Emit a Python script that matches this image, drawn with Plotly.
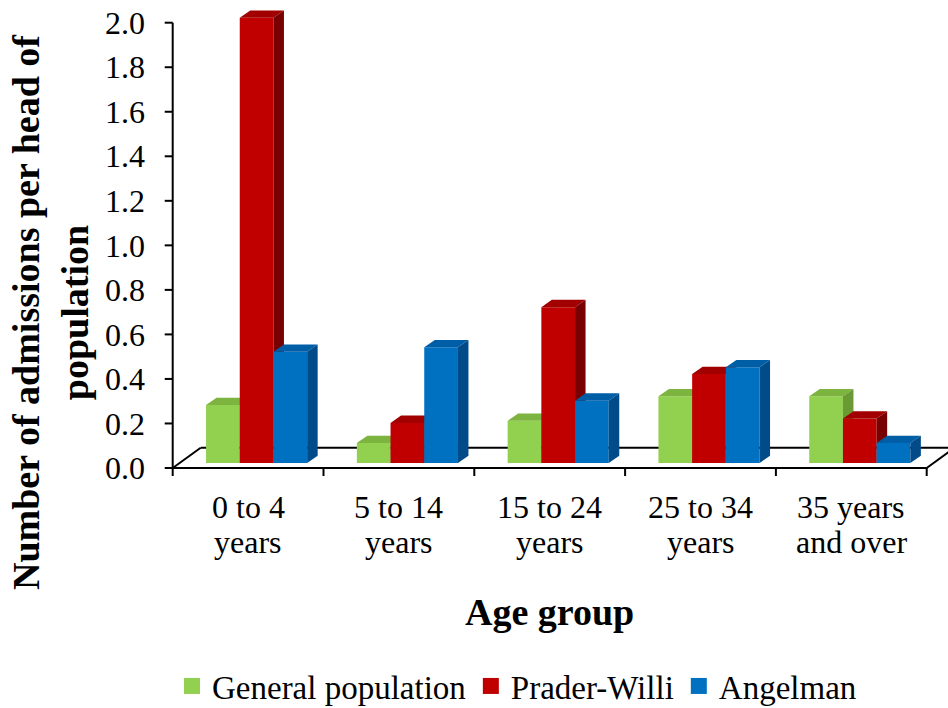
import plotly.graph_objects as go

# ---------------- data ----------------
categories = ["0 to 4<br>years", "5 to 14<br>years", "15 to 24<br>years",
              "25 to 34<br>years", "35 years<br>and over"]
general_population = [0.26, 0.09, 0.19, 0.30, 0.30]
prader_willi = [2.00, 0.18, 0.70, 0.40, 0.20]
angelman = [0.50, 0.52, 0.28, 0.43, 0.09]
series_names = ["General population", "Prader-Willi", "Angelman"]
y_ticks = [0.0, 0.2, 0.4, 0.6, 0.8, 1.0, 1.2, 1.4, 1.6, 1.8, 2.0]
x_title = "Age group"
y_title = "Number of admissions per head of<br>population"

# ---------------- styles ----------------
FONT = "Liberation Serif, Times New Roman, serif"
front_colors = ["#92D050", "#C00000", "#0070C0"]
top_colors = ["#7DB33F", "#A20000", "#005EA6"]
side_colors = ["#6A9A34", "#780000", "#004B88"]

W_PX, H_PX = 948, 708
PL, PR, PT, PB = 160, 948, 4, 484          # plot area in pixels
X0, SX = 172.7, 150.8                       # px of x=-0.5, px per category
Y0, SY = 468.0, 222.65                      # px of y=0, px per unit


def xd(px):
    return -0.5 + (px - X0) / SX


def yd(py):
    return (Y0 - py) / SY


def xp(px):
    return (px - PL) / (PR - PL)


def yp(py):
    return (PB - py) / (PB - PT)


BAR_W = 33.7 / SX
SHIFT = 8.5 / SX
BASE = 5.0 / SY
DX, DY = 10.5 / SX, 7.3 / SY
FDX, FDY = 28.0 / SX, 20.3 / SY
TICK_X = 8.0 / SX
TICK_Y = 8.0 / SY

values = [general_population, prader_willi, angelman]
n = len(categories)

fig = go.Figure()

# floor + axes outline
lx, ly = [], []


def seg(x1, y1, x2, y2):
    lx.extend([x1, x2, None])
    ly.extend([y1, y2, None])


seg(-0.5, 0, n - 0.5, 0)
seg(-0.5, 0, -0.5 + FDX, FDY)
seg(-0.5 + FDX, FDY, n - 0.5 + FDX, FDY)
seg(n - 0.5, 0, n - 0.5 + FDX, FDY)
seg(-0.5, 0, -0.5, y_ticks[-1])
for b in range(n + 1):
    seg(b - 0.5, 0, b - 0.5, -TICK_Y)
for t in y_ticks:
    seg(-0.5 - TICK_X, t, -0.5, t)

fig.add_trace(go.Scatter(x=lx, y=ly, mode="lines",
                         line=dict(color="black", width=2),
                         hoverinfo="skip", showlegend=False))

# 3D bars: front, top, side faces
for k, vals in enumerate(values):
    fx, fy, tx, ty, sx_, sy_ = [], [], [], [], [], []
    for i, v in enumerate(vals):
        xl = i - 1.5 * BAR_W + SHIFT + k * BAR_W
        xr = xl + BAR_W
        top = BASE + v
        fx += [xl, xr, xr, xl, xl, None]
        fy += [BASE, BASE, top, top, BASE, None]
        tx += [xl, xl + DX, xr + DX, xr, xl, None]
        ty += [top, top + DY, top + DY, top, top, None]
        sx_ += [xr, xr + DX, xr + DX, xr, xr, None]
        sy_ += [BASE, BASE + DY, top + DY, top, BASE, None]
    for xs, ys, col in [(fx, fy, front_colors[k]), (tx, ty, top_colors[k]),
                        (sx_, sy_, side_colors[k])]:
        fig.add_trace(go.Scatter(x=xs, y=ys, mode="lines", fill="toself",
                                 fillcolor=col, line=dict(width=0, color=col),
                                 hoverinfo="skip", showlegend=False))

# legend entries
for k, name in enumerate(series_names):
    fig.add_trace(go.Scatter(x=[None], y=[None], mode="markers", name=name,
                             marker=dict(symbol="square", size=16,
                                         color=front_colors[k])))

# category labels (two lines each)
annotations = []
for i, lab in enumerate(categories):
    cx = X0 + (i + 0.5) * SX
    for j, line in enumerate(lab.split("<br>")):
        annotations.append(dict(x=xp(cx), y=yp(507 + 35 * j),
                                xref="paper", yref="paper",
                                text=line, showarrow=False,
                                font=dict(family=FONT, size=32, color="black"),
                                xanchor="center", yanchor="middle"))

annotations.append(dict(x=xp(549), y=yp(612), xref="paper", yref="paper",
                        text="<b>" + x_title + "</b>", showarrow=False,
                        font=dict(family=FONT, size=38, color="black"),
                        xanchor="center", yanchor="middle"))
annotations.append(dict(x=xp(50), y=yp(312), xref="paper", yref="paper",
                        text="<b>" + y_title + "</b>", showarrow=False,
                        textangle=-90,
                        font=dict(family=FONT, size=38, color="black"),
                        xanchor="center", yanchor="middle"))

fig.update_layout(
    width=W_PX, height=H_PX,
    margin=dict(l=PL, r=W_PX - PR, t=PT, b=H_PX - PB, autoexpand=False),
    paper_bgcolor="white", plot_bgcolor="white",
    font=dict(family=FONT, color="black"),
    xaxis=dict(range=[xd(PL), xd(PR)], showticklabels=False, showgrid=False,
               zeroline=False, showline=False, ticks="", fixedrange=True),
    yaxis=dict(range=[yd(PB), yd(PT)], tickmode="array", tickvals=y_ticks,
               ticktext=[f"{t:.1f}" for t in y_ticks], ticks="",
               tickfont=dict(family=FONT, size=32, color="black"),
               ticklabelstandoff=14,
               showgrid=False, zeroline=False, showline=False, fixedrange=True),
    showlegend=True,
    legend=dict(orientation="h", x=xp(172), y=yp(686),
                xanchor="left", yanchor="middle",
                font=dict(family=FONT, size=33, color="black"),
                bgcolor="rgba(0,0,0,0)", itemclick=False, itemdoubleclick=False),
    annotations=annotations,
)

fig.write_html("out.html",
               config={"displayModeBar": False},
               post_script="document.body.style.margin='0px';"
                           "document.body.style.overflow='hidden';")
